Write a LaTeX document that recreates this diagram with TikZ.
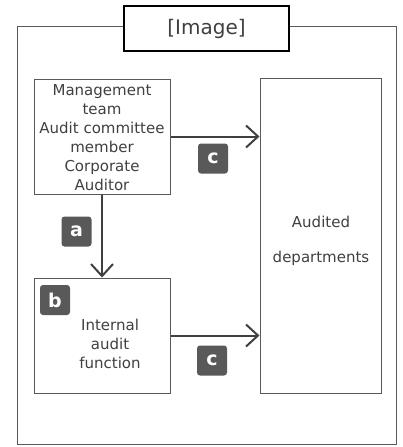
\documentclass[tikz,border=0pt]{standalone}
\usepackage{fontspec}
\setmainfont{DejaVu Sans}
\usetikzlibrary{arrows.meta}
\definecolor{txt}{HTML}{404040}
\definecolor{edge}{HTML}{595959}
\definecolor{badgefill}{HTML}{595959}
\tikzset{
  box/.style={draw=edge, line width=1pt, fill=white, inner sep=0pt},
  lbl/.style={text=txt, font=\fontsize{15}{19}\selectfont, align=center, inner sep=0pt},
  badge/.style={fill=badgefill, rounded corners=3pt, minimum width=30pt, minimum height=30pt, inner sep=0pt, text=white, font=\fontsize{19}{19}\selectfont\bfseries},
  arr/.style={draw=txt, line width=2pt, -{Straight Barb[length=12pt,width=22pt,line width=2pt]}}
}
\begin{document}
\begin{tikzpicture}[x=1pt,y=-1pt]
\useasboundingbox (0,0) rectangle (403,447);
\node[box, minimum width=379pt, minimum height=418pt] (frame) at (206.5,235) {};
\node[draw=black, line width=1.6pt, fill=white, minimum width=165pt, minimum height=45pt, inner sep=0pt, text=txt, font=\fontsize{20}{24}\selectfont] (title) at (206.5,28.5) {[Image]};
\node[box, minimum width=136pt, minimum height=115pt] (mgmt) at (102,136.5) {};
\node[lbl] (mgmttxt) at (102,138) {Management\\team\\Audit committee\\member\\Corporate\\Auditor};
\node[box, minimum width=136pt, minimum height=115pt] (internal) at (102,335.5) {};
\node[lbl] (inttxt) at (110,344) {Internal\\audit\\function};
\node[box, minimum width=121pt, minimum height=315pt] (audited) at (320.5,235.5) {};
\node[lbl, font=\fontsize{15}{35}\selectfont] (audtxt) at (321,241) {Audited\\departments};
\draw[arr] (mgmt.east) -- (mgmt.east -| audited.west);
\draw[arr] (internal.east) -- (internal.east -| audited.west);
\draw[arr] (mgmt.south) -- (internal.north);
\node[badge] (c1) at (213,158.5) {c};
\node[badge] (a) at (76.5,231.5) {a};
\node[badge] (b) at (55,300) {b};
\node[badge] (c2) at (212,360.5) {c};
\end{tikzpicture}
\end{document}
